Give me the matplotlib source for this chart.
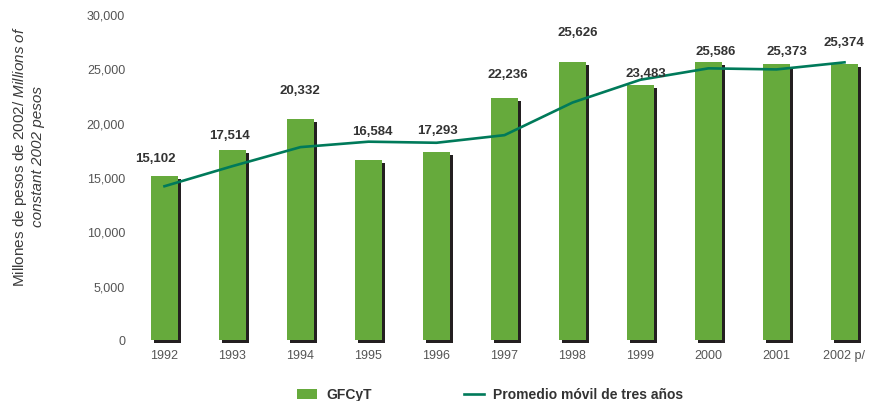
import matplotlib
matplotlib.use("Agg")
import matplotlib.pyplot as plt
import matplotlib.patheffects as pe
from matplotlib.patches import Patch
from matplotlib.lines import Line2D

plt.rcParams['font.family'] = ['Liberation Sans', 'DejaVu Sans']
plt.rcParams['mathtext.fontset'] = 'custom'
plt.rcParams['mathtext.rm'] = 'Liberation Sans'
plt.rcParams['mathtext.it'] = 'Liberation Sans:italic'

# data
years = ["1992", "1993", "1994", "1995", "1996", "1997", "1998", "1999", "2000", "2001", "2002 p/"]
gfcyt = [15102, 17514, 20332, 16584, 17293, 22236, 25626, 23483, 25586, 25373, 25374]
promedio = [14150, 16000, 17750, 18250, 18150, 18850, 21850, 23950, 25000, 24900, 25550]
yticks = [0, 5000, 10000, 15000, 20000, 25000, 30000]

# label offsets (pixels) relative to bar top
lab_dx = [-9.5, -2.5, -0.5, 3.5, 1.5, 3.5, 5.5, 5.5, 7.5, 10.5, -0.5]
lab_dy = [18, 15, 29, 29, 22, 24, 30, 12, 11, 13, 22]

green = "#66aa3c"
teal = "#007a5a"
shadow = "#231f20"

fig = plt.figure(figsize=(8.7, 4.02), dpi=100)
ax = fig.add_axes([130 / 870, 61 / 402, 740 / 870, 326 / 402])

x = list(range(len(years)))
bars = ax.bar(x, gfcyt, width=0.4, color=green, clip_on=False, zorder=2)
for b in bars:
    b.set_path_effects([pe.withSimplePatchShadow(offset=(2.2, -2.2), shadow_rgbFace=shadow, alpha=1.0)])

ax.plot(x, promedio, color=teal, lw=1.9, zorder=3)

for i, v in enumerate(gfcyt):
    ax.annotate(f"{v:,}", (i, v), xytext=(lab_dx[i], lab_dy[i]), textcoords="offset pixels",
                ha="center", va="center", fontsize=9.5, fontweight="bold", color="#333333", zorder=4)

ax.set_xlim(-0.507, 10.375)
ax.set_ylim(0, 30000)
ax.set_xticks(x)
ax.set_xticklabels(years)
ax.set_yticks(yticks)
ax.set_yticklabels([f"{t:,}" for t in yticks])
ax.tick_params(axis="both", length=0, labelsize=9, colors="#555555")
ax.tick_params(axis="x", pad=6.5)
ax.tick_params(axis="y", pad=3.5)
for s in ax.spines.values():
    s.set_visible(False)

fig.text(20 / 870, 1 - 156.5 / 402, r"Millones de pesos de 2002/ $\mathit{Millions\ of}$",
         rotation=90, ha="center", va="center", fontsize=11, color="#3a3a3a")
fig.text(38 / 870, 1 - 156.5 / 402, "constant 2002 pesos", style="italic",
         rotation=90, ha="center", va="center", fontsize=11, color="#3a3a3a")

handles = [Patch(facecolor=green, edgecolor="none"), Line2D([], [], color=teal, lw=1.9)]
fig.legend(handles, ["GFCyT", "Promedio móvil de tres años"], loc="center",
           bbox_to_anchor=(490 / 870, 1 - 395.5 / 402), ncol=2, frameon=False,
           prop={"size": 10, "weight": "bold"}, labelcolor="#333333",
           handlelength=1.45, handleheight=0.75, handletextpad=0.65, columnspacing=6.6)

fig.savefig("out.png", dpi=100)
